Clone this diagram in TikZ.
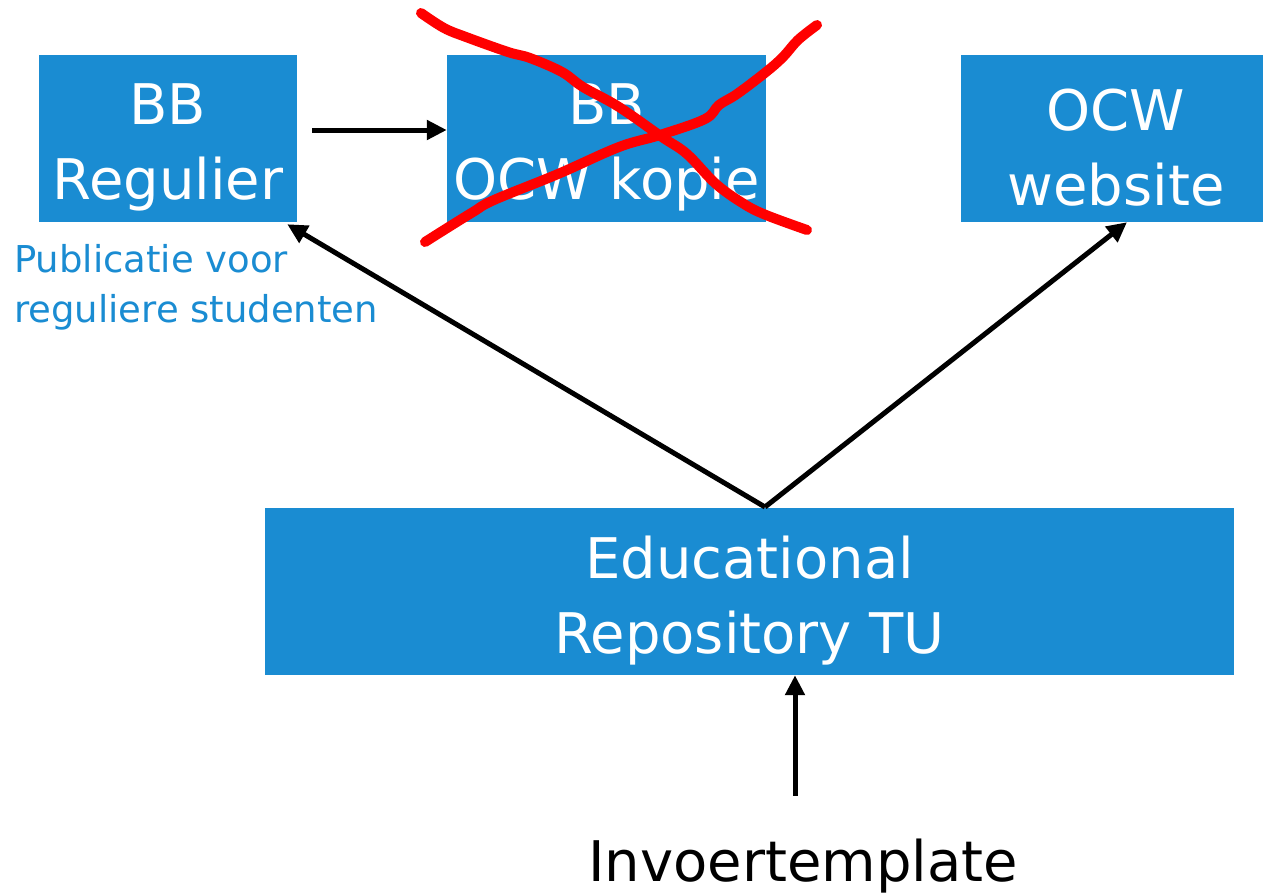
\documentclass[tikz,border=0pt]{standalone}
\usepackage{fontspec}
\setmainfont{DejaVu Sans}
\usepackage{xcolor}
\usetikzlibrary{arrows.meta}
\definecolor{boxblue}{RGB}{26,140,210}
\tikzset{
  blok/.style={fill=boxblue, inner sep=0pt, minimum height=167pt},
  bloktekst/.style={text=white, align=center, inner sep=0pt, font=\fontsize{56}{75}\selectfont},
  pijl/.style={line width=5pt, -{Triangle[length=20pt,width=19pt]}},
  kruis/.style={red, line width=10pt, line cap=round, line join=round},
}

\begin{document}
\begin{tikzpicture}[x=1pt,y=-1pt]
	\useasboundingbox (0,0) rectangle (1264,895);
	% boxes
	\node[blok, minimum width=258pt] (bbreg) at (168,138.5){};
	\node[blok, minimum width=319pt] (bbocw) at (606.5,138.5){};
	\node[blok, minimum width=302pt] (ocwweb) at (1112,138.5){};
	\node[blok, minimum width=969pt] (edurep) at (749.5,591.5){};
	\node[bloktekst] (bbregtxt) at ([yshift=-9pt]bbreg.center){BB\\Regulier};
	\node[bloktekst] (bbocwtxt) at ([yshift=-9pt]bbocw.center){BB\\OCW kopie};
	\node[bloktekst] (ocwwebtxt) at ([xshift=4pt,yshift=-9pt]ocwweb.center){OCW\\website};
	\node[bloktekst] (edureptxt) at ([yshift=-9pt]edurep.center){Educational\\Repository TU};
	% texts
	\node[anchor=north west, align=left, inner sep=0pt, text=boxblue, font=\fontsize{37}{50}\selectfont] (publ) at (14,244){Publicatie voor\\reguliere studenten};
	\node[inner sep=0pt, font=\fontsize{56}{75}\selectfont] (invoer) at (803,866){Invoertemplate};
	% arrows
	\coordinate (fork) at (765,507);
	\draw[pijl] ([xshift=15pt,yshift=8.5pt]bbreg.east) -- ([yshift=8.5pt]bbocw.west);
	\draw[pijl, line join=round] (fork) -- ([xshift=-10pt,yshift=-2pt]bbreg.south east);
	\draw[pijl, line join=round] (fork) -- ([xshift=15pt]ocwweb.south);
	\draw[pijl] ([xshift=-8pt,yshift=43pt]invoer.north) -- ([xshift=-8pt]invoer.north |- edurep.south);
	% red cross
	\draw[kruis] plot[smooth, tension=0.6] coordinates {(421,13) (444,28) (466,37) (508,52) (530,58) (562,72) (583,87) (619,107) (662,137) (687,154) (716,184) (744,204) (766,215) (807,230)};
	\draw[kruis] plot[smooth, tension=0.6] coordinates {(425,242) (444,230) (473,212) (494,200) (558,174) (619,147) (660,135) (705,119) (719,105) (737,94) (766,72) (783,57) (798,40) (817,25)};
\end{tikzpicture}
\end{document}
